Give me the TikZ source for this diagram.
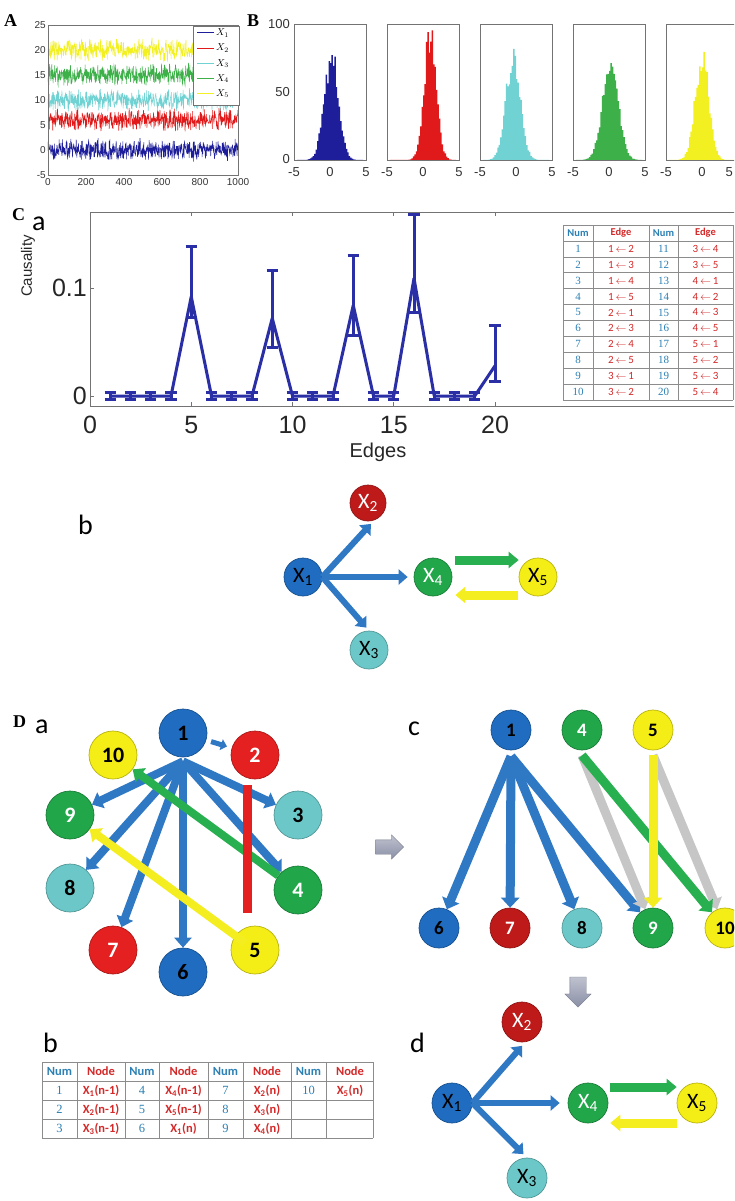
\documentclass[tikz,border=0pt]{standalone}
\usepackage{fontspec}
\setmainfont{Liberation Sans}
\newfontfamily\calibri{Carlito}
\newfontfamily\timesf{Liberation Serif}
\usetikzlibrary{arrows.meta,shapes.arrows}

\definecolor{trblue}{HTML}{1E1E9A}
\definecolor{trred}{HTML}{E01A1A}
\definecolor{trcyan}{HTML}{70D2D2}
\definecolor{trgreen}{HTML}{3EB04A}
\definecolor{tryellow}{HTML}{F2F020}
\definecolor{plotblue}{HTML}{2A2FA6}
\definecolor{numblue}{HTML}{2C80B4}
\definecolor{edgered}{HTML}{D42A2A}
\definecolor{nblue}{HTML}{1F6CC0}
\definecolor{nred}{HTML}{E42020}
\definecolor{ndred}{HTML}{BE1A1A}
\definecolor{ncyan}{HTML}{6CC8C8}
\definecolor{ngreen}{HTML}{22A64A}
\definecolor{nyellow}{HTML}{F4EE16}
\definecolor{ablue}{HTML}{2F78C4}
\definecolor{agreen}{HTML}{28B050}
\definecolor{ayellow}{HTML}{F4EE20}
\definecolor{agray}{HTML}{C6C6C6}
\definecolor{pgray}{HTML}{8A8FA6}

\begin{document}
\begin{tikzpicture}[x=1pt,y=-1pt,
  frame/.style={draw=black!55,line width=0.6pt},
  ticklab/.style={font=\fontsize{10}{10}\selectfont,text=black!80,inner sep=1pt},
  bigtick/.style={font=\fontsize{25}{25}\selectfont,text=black!85,inner sep=0pt},
  panel/.style={font=\timesf\bfseries\fontsize{18}{18}\selectfont,anchor=base west,inner sep=0pt},
  sub/.style={font=\calibri\fontsize{28}{28}\selectfont,anchor=base west,inner sep=0pt},
  ball/.style n args={3}{circle,inner sep=0pt,minimum size=#1,fill=#2,draw=#2!75!black,line width=0.7pt,text=#3},
  xlab/.style={font=\calibri\fontsize{22}{22}\selectfont},
  numlab/.style={font=\calibri\bfseries\fontsize{22}{22}\selectfont},
  blk/.style={draw=#1,line width=7pt,-{Triangle[length=10pt,width=16pt]}},
  grayarrow/.style={single arrow,top color=pgray!55!white,bottom color=pgray,draw=pgray!85!black,line width=0.3pt,
    inner xsep=0pt,inner ysep=#1,single arrow head extend=5pt},
  tabline/.style={draw=black!45,line width=0.5pt},
  hnum/.style={font=\calibri\bfseries\fontsize{10.5}{10.5}\selectfont,text=numblue,inner sep=0pt},
  hedge/.style={font=\calibri\bfseries\fontsize{10.5}{10.5}\selectfont,text=edgered,inner sep=0pt},
  tnum/.style={font=\timesf\fontsize{11}{11}\selectfont,text=numblue,inner sep=0pt},
  tedge/.style={font=\calibri\fontsize{11}{11}\selectfont,text=edgered,inner sep=0pt},
  cline/.style={draw=plotblue,line width=3pt,line join=round}]
\clip (0,0) rectangle (734,1201);
\fill[white] (0,0) rectangle (734,1201);

% A: time series
\node[panel] (labA) at (4,27) {A};
\begin{scope}[shift={(48,150)},x=0.19pt,y=5pt]
  \pgfmathsetseed{7}
  \foreach \m/\c in {0/trblue,6/trred,10/trcyan,15/trgreen,20/tryellow}
    \draw[\c,line width=0.5pt] plot[domain=0:1000,samples=600] (\x,{\m+1.4*rand+1.1*rand});
\end{scope}
\draw[frame] (48,25) rectangle (238,175);
\foreach \v in {25,20,...,-5}
  \node[ticklab,anchor=east] (ya\v) at (47,{150-5*\v}) {\v};
\foreach \t in {0,200,...,1000}
  \node[ticklab,anchor=north] (xa\t) at ({48+0.19*\t},177) {\t};
\draw[frame,fill=white] (193,26) rectangle (239,105);
\foreach \c/\i in {trblue/1,trred/2,trcyan/3,trgreen/4,tryellow/5} {
  \draw[\c,line width=1pt] (197,{17.8+15.2*\i}) -- (214,{17.8+15.2*\i});
  \node[anchor=west,inner sep=0pt,font=\fontsize{10}{10}\selectfont] (lg\i) at (216,{17.8+15.2*\i}) {$X_{\i}$};
}

% B: histograms
\node[panel] (labB) at (247,27) {B};
\foreach \k/\c/\mu/\pk/\sg in {0/trblue/0.1/75/1.0,1/trred/0.9/90/0.85,2/trcyan/-0.5/74/1.0,3/trgreen/0.1/68/1.1,4/tryellow/-0.1/74/0.95} {
  \begin{scope}[shift={({330+93*\k},160)},x=7.2pt,y=1.36pt]
    \fill[\c] (-4.6,0) -- plot[const plot,domain=-4.6:4.6,samples=47]
      (\x,{\pk*exp(-((\x-(\mu))^2)/(2*\sg*\sg))*(0.85+0.3*rnd)}) -- (4.6,0) -- cycle;
  \end{scope}
  \draw[frame] ({294+93*\k},24) rectangle ({366+93*\k},160);
  \node[ticklab,font=\fontsize{13}{13}\selectfont] (hb\k l) at ({294+93*\k},172) {-5};
  \node[ticklab,font=\fontsize{13}{13}\selectfont] (hb\k m) at ({330+93*\k},172) {0};
}
\foreach \k in {0,1,2,3}
  \node[ticklab,font=\fontsize{13}{13}\selectfont] (hb\k r) at ({366+93*\k},172) {5};
\node[ticklab,font=\fontsize{13}{13}\selectfont,anchor=east] (hb4r) at (734,172) {5};
\foreach \v/\y in {100/24,50/92,0/159}
  \node[ticklab,anchor=east,font=\fontsize{13}{13}\selectfont] (yb\v) at (291,\y) {\v};

% C a: causality per edge
\node[panel] (labC) at (12,220) {C};
\node[sub] (labCa) at (32,230) {a};
\draw[frame] (90,212) rectangle (760,406);
\foreach \e in {5,10,15,20} {
  \draw[frame] ({90+20.25*\e},406) -- +(0,-4);
  \draw[frame] ({90+20.25*\e},212) -- +(0,4);
  \node[bigtick] (xc\e) at ({90+20.25*\e},425) {\e};
}
\node[bigtick] (xc0) at (90,425) {0};
\draw[frame] (90,396) -- +(4,0) (90,288) -- +(4,0);
\node[bigtick,anchor=east] (yc0) at (87,396) {0};
\node[bigtick,anchor=east] (yc1) at (87,288) {0.1};
\node[font=\fontsize{15}{15}\selectfont,rotate=90,text=black!85] (ylabC) at (28,266) {Causality};
\node[font=\fontsize{20}{20}\selectfont,text=black!85] (xlabC) at (378,452) {Edges};
\begin{scope}[shift={(90,396)},x=20.25pt,y=1080pt]
  \draw[cline] plot coordinates {(1,0) (2,0) (3,0) (4,0) (5,.092) (6,0) (7,0) (8,0) (9,.072) (10,0)
    (11,0) (12,0) (13,.084) (14,0) (15,0) (16,.109) (17,0) (18,0) (19,0) (20,.028)};
  \foreach \e/\lo/\hi in {1/-.003/.003,2/-.003/.003,3/-.003/.003,4/-.003/.003,5/.073/.138,
    6/-.003/.003,7/-.003/.003,8/-.003/.003,9/.045/.116,10/-.003/.003,11/-.003/.003,12/-.003/.003,
    13/.056/.130,14/-.003/.003,15/-.003/.003,16/.077/.168,17/-.003/.003,18/-.003/.003,
    19/-.003/.003,20/.013/.065}
    \draw[cline,line join=miter] (\e,\lo) -- (\e,\hi) (\e-.28,\lo) -- (\e+.28,\lo) (\e-.28,\hi) -- (\e+.28,\hi);
\end{scope}

% C a: edge table
\fill[white] (563,225) rectangle (733,400);
\foreach \y in {0,...,11}
  \draw[tabline] (563,{225+15.9*\y}) -- (733,{225+15.9*\y});
\foreach \x in {563,593,649,678,733}
  \draw[tabline] (\x,225) -- (\x,400);
\node[hnum] (th1) at (578,233) {Num};
\node[hedge] (th2) at (621,233) {Edge};
\node[hnum] (th3) at (663.5,233) {Num};
\node[hedge] (th4) at (705.5,233) {Edge};
\foreach \i/\s/\t in {1/1/2,2/1/3,3/1/4,4/1/5,5/2/1,6/2/3,7/2/4,8/2/5,9/3/1,10/3/2} {
  \node[tnum] (tn\i) at (578,{225+15.9*(\i+0.5)}) {\i};
  \node[tedge] (te\i) at (621,{225+15.9*(\i+0.5)}) {\s\,$\leftarrow$\,\t};
}
\foreach \i/\s/\t in {11/3/4,12/3/5,13/4/1,14/4/2,15/4/3,16/4/5,17/5/1,18/5/2,19/5/3,20/5/4} {
  \node[tnum] (tn\i) at (663.5,{225+15.9*(\i-9.5)}) {\i};
  \node[tedge] (te\i) at (705.5,{225+15.9*(\i-9.5)}) {\s\,$\leftarrow$\,\t};
}

% C b: inferred network
\node[sub] (labCb) at (78,534) {b};
\node[ball={38pt}{nblue}{black},xlab] (cb1) at (303,577) {X\textsubscript{1}};
\node[ball={36pt}{ndred}{white},xlab] (cb2) at (368,503) {X\textsubscript{2}};
\node[ball={38pt}{ncyan}{black},xlab] (cb3) at (369,650) {X\textsubscript{3}};
\node[ball={38pt}{ngreen}{white},xlab] (cb4) at (433,577) {X\textsubscript{4}};
\node[ball={38pt}{nyellow}{black},xlab] (cb5) at (538,577) {X\textsubscript{5}};
\begin{scope}[every path/.style={line width=6pt,-{Triangle[length=9pt,width=15pt]}}]
  \draw[draw=ablue,shorten >=5pt] (cb1.east) -- (cb2.-70);
  \draw[draw=ablue,shorten >=4pt] (cb1.east) -- (cb3.north);
  \draw[draw=ablue,shorten >=6pt] (cb1.east) -- (cb4.west);
\end{scope}
\draw[blk=agreen,line width=9pt,shorten <=3pt] ([yshift=17pt]cb4.east) -- ([yshift=17pt]cb5.west);
\draw[blk=ayellow,line width=9pt,shorten <=1pt,shorten >=3pt] ([yshift=-18pt]cb5.west) -- ([yshift=-18pt]cb4.east);

% D a: full network of lagged nodes
\node[panel] (labD) at (13,727) {D};
\node[sub] (labDa) at (35,733) {a};
\foreach \n/\x/\y/\c/\t in {1/183/733/nblue/black,2/255/755/nred/white,3/298/815/ncyan/black,
  4/298/890/ngreen/white,5/255/950/nyellow/black,6/183/972/nblue/black,7/113/950/nred/white,
  8/70/888/ncyan/black,9/70/815/ngreen/white,10/113/755/nyellow/black}
  \node[ball={48pt}{\c}{\t},numlab] (a\n) at (\x,\y) {\n};
\foreach \t in {9,8,7,6,3,4}
  \draw[blk=ablue,line width=8pt,-{Triangle[length=10pt,width=17pt]}] ([yshift=-4pt]a1.south) -- (a\t);
\draw[blk=ablue,line width=5pt,-{Triangle[length=6pt,width=11pt]},shorten <=5pt,shorten >=5pt] (a1) -- (a2);
\draw[blk=agreen,line width=8pt,-{Triangle[length=10pt,width=17pt]}] (a4) -- (a10);
\draw[draw=nred,line width=9pt,shorten <=6pt,shorten >=13pt] ([xshift=-8pt]a2.south) -- ([xshift=-8pt]a5.north);
\draw[blk=ayellow,line width=8pt,-{Triangle[length=10pt,width=17pt]},shorten <=-12pt] (a5) -- (a9);

\node[grayarrow=7pt,minimum height=28pt] (toC) at (386,847) {};

% D b: node table
\node[sub] (labDb) at (43,1052) {b};
\foreach \y in {1062,1081,1100,1119,1138}
  \draw[tabline] (42,\y) -- (373,\y);
\foreach \x in {42,77,125,159,208,243,291,326,373}
  \draw[tabline] (\x,1062) -- (\x,1138);
\foreach \c/\x in {0/59.5,1/142,2/225.5,3/308.5} {
  \node[hnum,font=\calibri\bfseries\fontsize{12.5}{12.5}\selectfont] (dh\c a) at (\x,1071.5) {Num};
  \node[hedge,font=\calibri\bfseries\fontsize{12.5}{12.5}\selectfont] (dh\c b) at ({\x+41.5},1071.5) {Node};
}
\foreach \n/\s/\t/\x/\y in {1/1/n-1/59.5/1090.5,2/2/n-1/59.5/1109.5,3/3/n-1/59.5/1128.5,
  4/4/n-1/142/1090.5,5/5/n-1/142/1109.5,6/1/n/142/1128.5,
  7/2/n/225.5/1090.5,8/3/n/225.5/1109.5,9/4/n/225.5/1128.5,10/5/n/308.5/1090.5} {
  \node[tnum,font=\timesf\fontsize{12.5}{12.5}\selectfont] (dn\n) at (\x,\y) {\n};
  \node[tedge,font=\calibri\bfseries\fontsize{12.5}{12.5}\selectfont] (dx\n) at ({\x+41.5},\y) {X\textsubscript{\s}(\t)};
}

% D c: pruned network
\node[sub] (labDc) at (408,735) {c};
\foreach \n/\x/\y/\c/\t in {1/511/730/nblue/black,4/582/730/ngreen/white,5/653/730/nyellow/black,
  6/439/928/nblue/black,7/510/928/ndred/white,8/582/928/ncyan/black,9/653/928/ngreen/white,10/725/928/nyellow/black}
  \node[ball={40pt}{\c}{\t},numlab,font=\calibri\bfseries\fontsize{19}{19}\selectfont] (c\n) at (\x,\y) {\n};
\foreach \t in {6,7,8,9}
  \draw[blk=ablue,line width=9pt,-{Triangle[length=10pt,width=18pt]}] ([yshift=-6pt]c1.south) -- (c\t);
\draw[blk=agray,line width=9pt,-{Triangle[length=10pt,width=18pt]}] ([yshift=-5pt]c4.south) -- (c9);
\draw[blk=agray,line width=9pt,-{Triangle[length=10pt,width=18pt]}] ([yshift=-5pt]c5.south) -- (c10);
\draw[blk=agreen,line width=9pt,-{Triangle[length=10pt,width=18pt]}] ([yshift=-5pt]c4.south) -- (c10);
\draw[blk=ayellow,line width=9pt,-{Triangle[length=10pt,width=18pt]}] ([yshift=-5pt]c5.south) -- (c9);

\node[grayarrow=8pt,minimum height=30pt,rotate=-90] (toD) at (578,988) {};

% D d: recovered network
\node[sub] (labDd) at (410,1052) {d};
\node[ball={40pt}{nblue}{black},xlab] (dd1) at (452,1103) {X\textsubscript{1}};
\node[ball={40pt}{ndred}{white},xlab] (dd2) at (522,1022) {X\textsubscript{2}};
\node[ball={40pt}{ncyan}{black},xlab] (dd3) at (527,1178) {X\textsubscript{3}};
\node[ball={40pt}{ngreen}{white},xlab] (dd4) at (588,1103) {X\textsubscript{4}};
\node[ball={40pt}{nyellow}{black},xlab] (dd5) at (697,1103) {X\textsubscript{5}};
\begin{scope}[every path/.style={line width=6pt,-{Triangle[length=9pt,width=15pt]}}]
  \draw[draw=ablue,shorten >=5pt] (dd1.east) -- (dd2.-80);
  \draw[draw=ablue,shorten >=5pt] (dd1.east) -- (dd3.north);
  \draw[draw=ablue,shorten >=8pt] (dd1.east) -- (dd4.west);
\end{scope}
\draw[blk=agreen,line width=9pt,shorten <=2pt] ([yshift=16pt]dd4.east) -- ([yshift=16pt]dd5.west);
\draw[blk=ayellow,line width=9pt,shorten >=2pt] ([yshift=-20pt]dd5.west) -- ([yshift=-20pt]dd4.east);
\end{tikzpicture}
\end{document}
